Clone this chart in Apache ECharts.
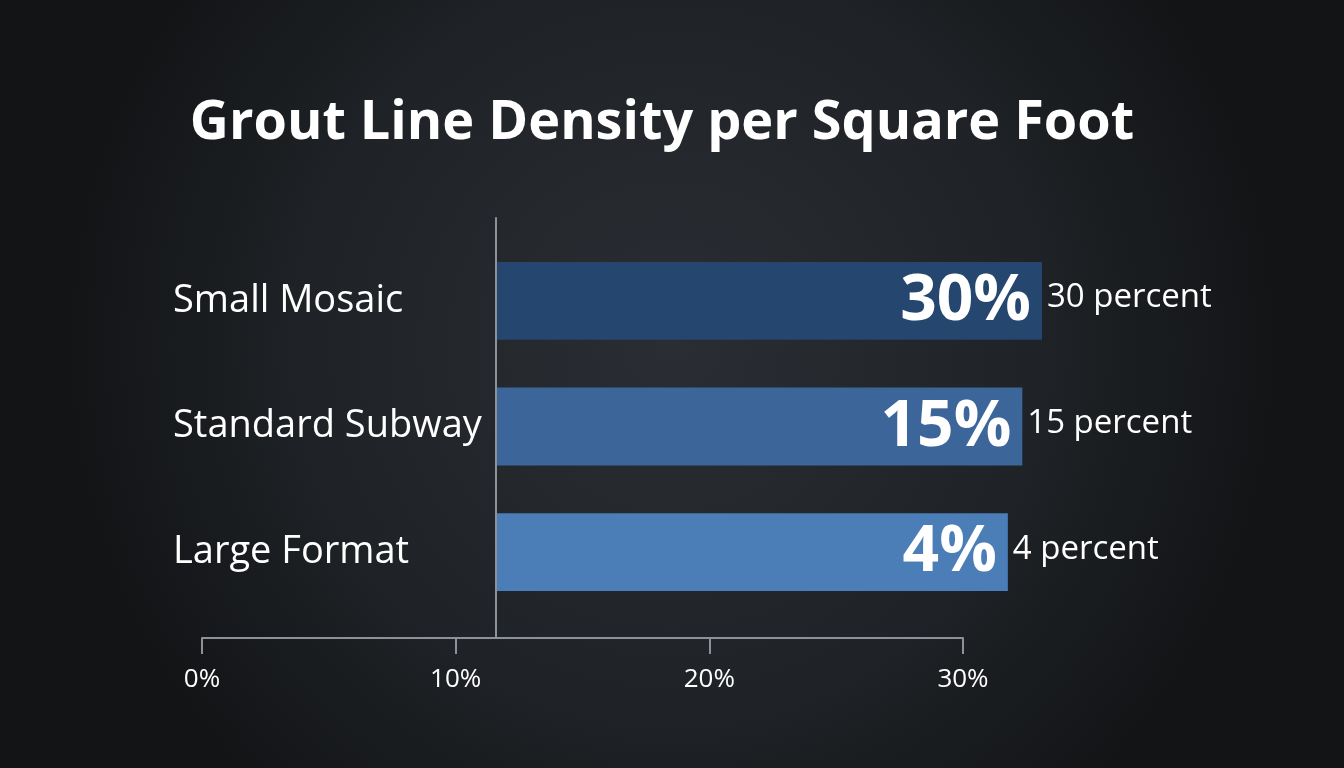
<!DOCTYPE html>
<html>
<head>
<meta charset="utf-8">
<script src="https://cdn.jsdelivr.net/npm/echarts@6/dist/echarts.min.js"></script>
<style>
html,body{margin:0;padding:0;background:#16181b;}
#chart{width:1344px;height:768px;}
</style>
</head>
<body>
<div id="chart"></div>
<script>
const title = 'Grout Line Density per Square Foot';
const categories = ['Small Mosaic', 'Standard Subway', 'Large Format'];
const values = [30, 15, 4];
const barColors = ['#24466f', '#3c6699', '#4b7db7'];
const axisTicks = [0, 10, 20, 30];

const FONT = '"Open Sans", Lato, sans-serif';
const BAR_AXIS_MIN = -385;

const chart = echarts.init(document.getElementById('chart'));
const option = {
  backgroundColor: {
    type: 'radial', x: 0.5, y: 0.45, r: 0.8,
    colorStops: [
      { offset: 0, color: '#2a2e34' },
      { offset: 0.6, color: '#1f2226' },
      { offset: 1, color: '#121416' }
    ]
  },
  title: {
    text: title,
    left: 657, top: 92, textAlign: 'center',
    textStyle: { color: '#ffffff', fontFamily: FONT, fontWeight: 'bold', fontSize: 54 }
  },
  grid: [
    { left: 497, right: 302, top: 238, bottom: 153 },
    { left: 202, right: 381, top: 218, bottom: 130 }
  ],
  xAxis: [
    { gridIndex: 0, type: 'value', min: BAR_AXIS_MIN, max: Math.max(...values), show: false },
    {
      gridIndex: 1, type: 'value', min: axisTicks[0], max: axisTicks[axisTicks.length - 1], interval: 10,
      axisLine: { show: true, lineStyle: { color: '#8d9198', width: 2 } },
      axisTick: { show: true, length: 16, lineStyle: { color: '#8d9198', width: 2 } },
      splitLine: { show: false },
      axisLabel: { color: '#ffffff', fontFamily: FONT, fontSize: 26, margin: 29, formatter: '{value}%' }
    }
  ],
  yAxis: [
    {
      gridIndex: 0, type: 'category', data: categories, inverse: true,
      axisLine: { show: false }, axisTick: { show: false },
      axisLabel: { color: '#ffffff', fontFamily: FONT, fontWeight: 500, fontSize: 38, align: 'left', margin: 324 }
    },
    {
      gridIndex: 1, type: 'value', offset: -294,
      axisLine: { show: true, lineStyle: { color: '#8d9198', width: 2 } },
      axisTick: { show: false }, axisLabel: { show: false }, splitLine: { show: false }
    }
  ],
  series: [{
    type: 'custom',
    xAxisIndex: 0, yAxisIndex: 0,
    encode: { x: 0, y: 1 },
    data: values.map((v, i) => [v, i]),
    renderItem: function (params, api) {
      const v = api.value(0);
      const idx = api.value(1);
      const end = api.coord([v, idx]);
      const start = api.coord([BAR_AXIS_MIN, idx]);
      const h = api.size([0, 1])[1] * 0.62;
      return {
        type: 'group',
        children: [
          { type: 'rect', shape: { x: start[0], y: end[1] - h / 2, width: end[0] - start[0], height: h },
            style: { fill: barColors[idx] } },
          { type: 'text', x: end[0] - 11, y: end[1] + 1,
            style: { text: v + '%', fill: '#ffffff', fontFamily: FONT, fontWeight: 'bold', fontSize: 64,
                     align: 'right', verticalAlign: 'middle' } },
          { type: 'text', x: end[0] + 5, y: end[1] - 3,
            style: { text: v + ' percent', fill: '#ffffff', fontFamily: FONT, fontSize: 33,
                     align: 'left', verticalAlign: 'middle' } }
        ]
      };
    }
  }]
};
chart.setOption(option);
</script>
</body>
</html>
